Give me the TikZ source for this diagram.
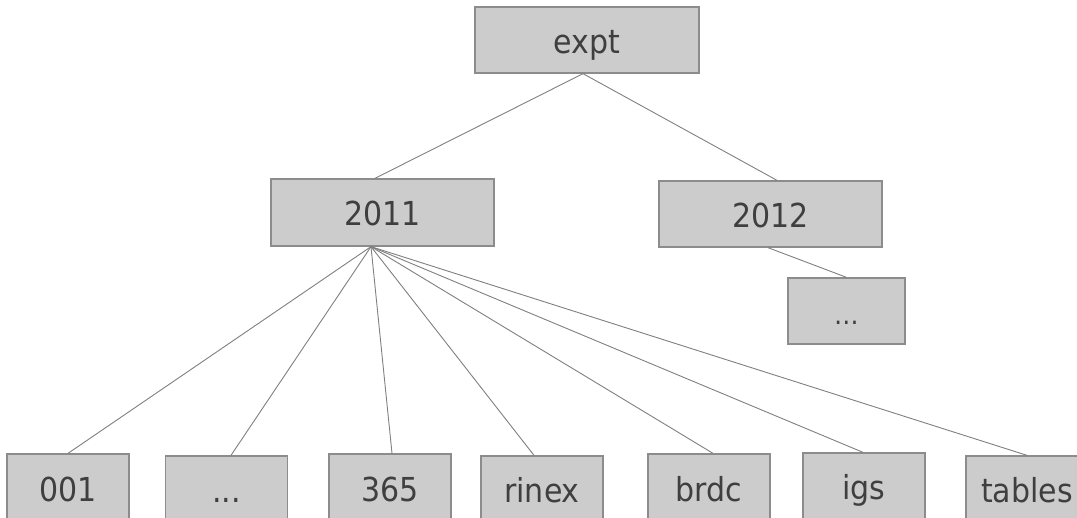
\documentclass[tikz,border=0pt]{standalone}
\usepackage{fontspec}
\setmainfont{DejaVu Sans}[FakeStretch=0.91]
\definecolor{boxfill}{HTML}{CCCCCC}
\definecolor{boxline}{HTML}{8C8C8C}
\definecolor{wire}{HTML}{808080}
\definecolor{ink}{HTML}{3F3F3F}
\tikzset{
  dir/.style={draw=boxline, fill=boxfill, line width=1.3pt, inner sep=0pt,
    text=ink, font=\fontsize{33}{40}\selectfont,
    text height=27pt, text depth=0pt,
    minimum width=223pt, minimum height=66pt},
  leaf/.style={dir, minimum width=122pt, minimum height=67pt},
  more/.style={dir, minimum width=117pt, font=\fontsize{27}{32}\selectfont},
  wirestyle/.style={draw=wire, line width=0.9pt}
}
\begin{document}
\begin{tikzpicture}[x=1pt, y=-1pt]
\useasboundingbox (0,0) rectangle (1077,518);
\clip (0,0) rectangle (1077,518);
\fill[white] (0,0) rectangle (1077,518);

% directory boxes
\node[dir, minimum width=224pt] (expt) at (587,40) {expt};
\node[dir, minimum height=67pt] (y2011) at (382.5,212.5) {2011};
\node[dir] (y2012) at (770.5,214) {2012};
\node[more] (y2012more) at (846.5,311) {\ldots};

% day and product folders of 2011
\node[leaf] (d001)   at (68,487.5)   {001};
\node[leaf] (ddots)  at (226.5,489.5) {...};
\node[leaf] (d365)   at (390,487.5)  {365};
\node[leaf] (rinex)  at (542,489.5)  {rinex};
\node[leaf] (brdc)   at (709,487.5)  {brdc};
\node[leaf] (igs)    at (864,486.5)  {igs};
\node[leaf] (tables) at (1027,489.5) {tables};

% tree connectors
\draw[wirestyle] ([xshift=-4pt]expt.south) -- ([xshift=-7.5pt]y2011.north);
\draw[wirestyle] ([xshift=-4pt]expt.south) -- ([xshift=6.5pt]y2012.north);
\draw[wirestyle] ([xshift=-2.5pt]y2012.south) -- (y2012more.north);

\coordinate (hub) at ([xshift=-11.5pt]y2011.south);
\draw[wirestyle] (hub) -- (d001.north);
\draw[wirestyle] (hub) -- ([xshift=4.5pt]ddots.north);
\draw[wirestyle] (hub) -- ([xshift=2pt]d365.north);
\draw[wirestyle] (hub) -- ([xshift=-8pt]rinex.north);
\draw[wirestyle] (hub) -- ([xshift=4pt]brdc.north);
\draw[wirestyle] (hub) -- ([xshift=-1pt]igs.north);
\draw[wirestyle] (hub) -- (tables.north);
\end{tikzpicture}
\end{document}
